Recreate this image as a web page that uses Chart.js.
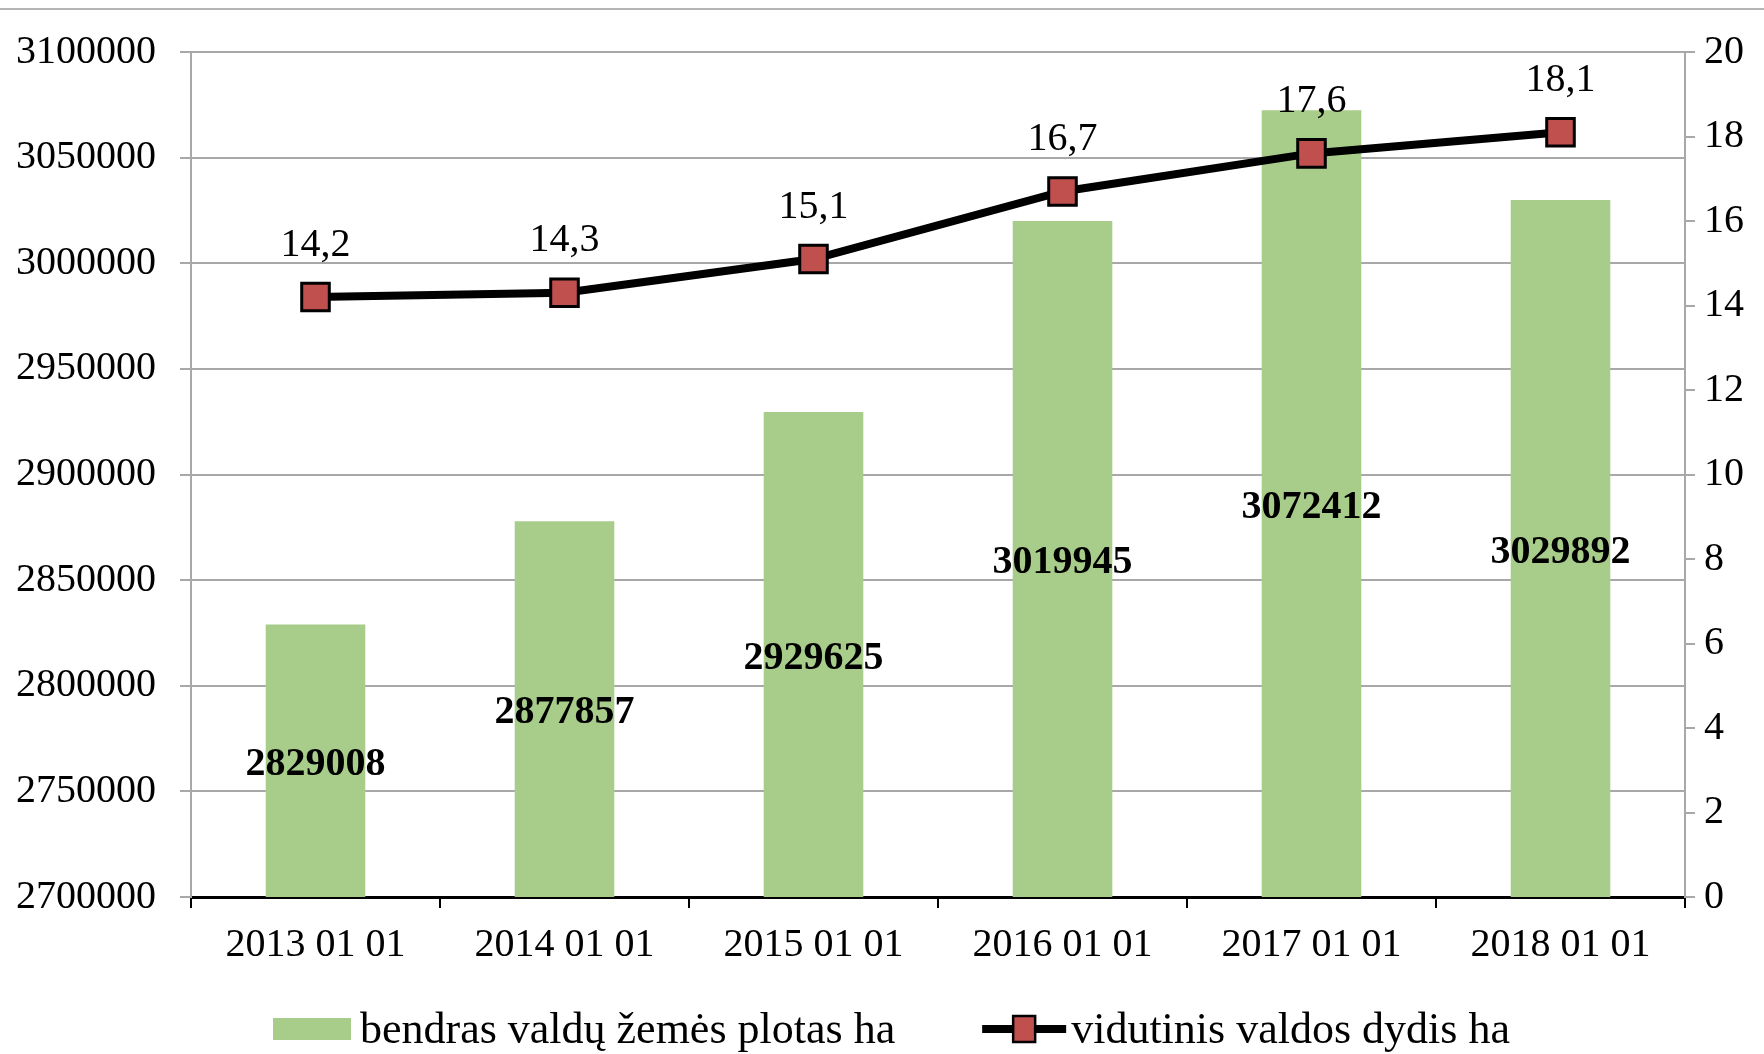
<!DOCTYPE html>
<html>
<head>
<meta charset="utf-8">
<script src="https://cdn.jsdelivr.net/npm/chart.js@4.4.0/dist/chart.umd.min.js"></script>
<style>
  html, body { margin: 0; padding: 0; background: #fff; }
</style>
</head>
<body>
<canvas id="c" width="1764" height="1054"></canvas>
<script>
const categories = ["2013 01 01", "2014 01 01", "2015 01 01", "2016 01 01", "2017 01 01", "2018 01 01"];
const seriesNames = ["bendras valdų žemės plotas ha", "vidutinis valdos dydis ha"];
const areaHa = [2829008, 2877857, 2929625, 3019945, 3072412, 3029892];
const avgSize = [14.2, 14.3, 15.1, 16.7, 17.6, 18.1];
const leftTicks = [2700000, 2750000, 2800000, 2850000, 2900000, 2950000, 3000000, 3050000, 3100000];
const rightTicks = [0, 2, 4, 6, 8, 10, 12, 14, 16, 18, 20];

const FONT = '"Liberation Serif", "Times New Roman", serif';
const barColor = '#a8cd8a';
const markerColor = '#c0504d';
const gridColor = '#a8a8a8';

Chart.defaults.font.family = FONT;
Chart.defaults.font.size = 40;
Chart.defaults.color = '#000';

// top border, value labels, legend
const decor = {
  id: 'decor',
  beforeDraw(chart) {
    const ctx = chart.ctx;
    ctx.save();
    ctx.fillStyle = '#fff';
    ctx.fillRect(0, 0, chart.width, chart.height);
    ctx.strokeStyle = '#b4b4b4';
    ctx.lineWidth = 2;
    ctx.beginPath();
    ctx.moveTo(0, 9);
    ctx.lineTo(chart.width, 9);
    ctx.stroke();
    ctx.restore();
  },
  afterDraw(chart) {
    const ctx = chart.ctx;
    ctx.save();
    ctx.fillStyle = '#000';
    ctx.textAlign = 'center';
    ctx.textBaseline = 'middle';

    // bar values, centred in the bar
    const yScale = chart.scales.y;
    ctx.font = 'bold 40px ' + FONT;
    chart.getDatasetMeta(0).data.forEach((b, i) => {
      const p = b.getProps(['x', 'y'], true);
      const base = yScale.getPixelForValue(yScale.min);
      ctx.fillText(String(areaHa[i]), p.x, (p.y + base) / 2 + 4);
    });

    // line values, above the markers
    ctx.font = '40px ' + FONT;
    chart.getDatasetMeta(1).data.forEach((pt, i) => {
      const p = pt.getProps(['x', 'y'], true);
      ctx.fillText(avgSize[i].toFixed(1).replace('.', ','), p.x, p.y - 52);
    });

    // legend
    const y = 1029;
    ctx.font = '44px ' + FONT;
    ctx.textAlign = 'left';
    let x = 273;
    ctx.fillStyle = barColor;
    ctx.fillRect(x, y - 11, 78, 22);
    x += 87;
    ctx.fillStyle = '#000';
    ctx.fillText(seriesNames[0], x, y + 2);
    x += ctx.measureText(seriesNames[0]).width + 87;
    ctx.strokeStyle = '#000';
    ctx.lineWidth = 8;
    ctx.beginPath();
    ctx.moveTo(x, y);
    ctx.lineTo(x + 84, y);
    ctx.stroke();
    ctx.fillStyle = markerColor;
    ctx.lineWidth = 2.5;
    ctx.fillRect(x + 31, y - 13, 22, 26);
    ctx.strokeRect(x + 31, y - 13, 22, 26);
    x += 89;
    ctx.fillStyle = '#000';
    ctx.fillText(seriesNames[1], x, y + 2);
    ctx.restore();
  }
};

new Chart(document.getElementById('c').getContext('2d'), {
  type: 'bar',
  data: {
    labels: categories,
    datasets: [
      {
        type: 'bar',
        label: seriesNames[0],
        data: areaHa,
        yAxisID: 'y',
        backgroundColor: barColor,
        barPercentage: 0.4,
        categoryPercentage: 1.0,
        order: 1
      },
      {
        type: 'line',
        label: seriesNames[1],
        data: avgSize,
        yAxisID: 'y1',
        borderColor: '#000',
        borderWidth: 8,
        pointStyle: 'rect',
        pointRadius: 19.5,
        pointBackgroundColor: markerColor,
        pointBorderColor: '#000',
        pointBorderWidth: 3,
        tension: 0,
        order: 0
      }
    ]
  },
  options: {
    responsive: false,
    animation: false,
    devicePixelRatio: 1,
    layout: { padding: { top: 52, left: 0, right: 0, bottom: 0 } },
    plugins: { legend: { display: false }, tooltip: { enabled: false } },
    scales: {
      x: {
        offset: true,
        z: 1,
        grid: { offset: true, drawOnChartArea: false, drawTicks: true, tickLength: 11, color: '#000', lineWidth: 2 },
        border: { display: true, color: '#000', width: 3 },
        ticks: { padding: 13, color: '#000', font: { size: 40 }, maxRotation: 0 },
        afterFit(s) { s.height = 157; }
      },
      y: {
        position: 'left',
        min: leftTicks[0],
        max: leftTicks[leftTicks.length - 1],
        afterBuildTicks(s) { s.ticks = leftTicks.map(v => ({ value: v })); },
        grid: { color: gridColor, lineWidth: 2, tickLength: 11 },
        border: { color: gridColor, width: 2 },
        ticks: { padding: 24, color: '#000', callback: v => String(v) },
        afterFit(s) { s.width = 191; }
      },
      y1: {
        position: 'right',
        min: rightTicks[0],
        max: rightTicks[rightTicks.length - 1],
        afterBuildTicks(s) { s.ticks = rightTicks.map(v => ({ value: v })); },
        grid: { drawOnChartArea: false, color: gridColor, lineWidth: 2, tickLength: 10 },
        border: { color: gridColor, width: 2 },
        ticks: { padding: 9, color: '#000', callback: v => String(v) },
        afterFit(s) { s.width = 79; }
      }
    }
  },
  plugins: [decor]
});
</script>
</body>
</html>
